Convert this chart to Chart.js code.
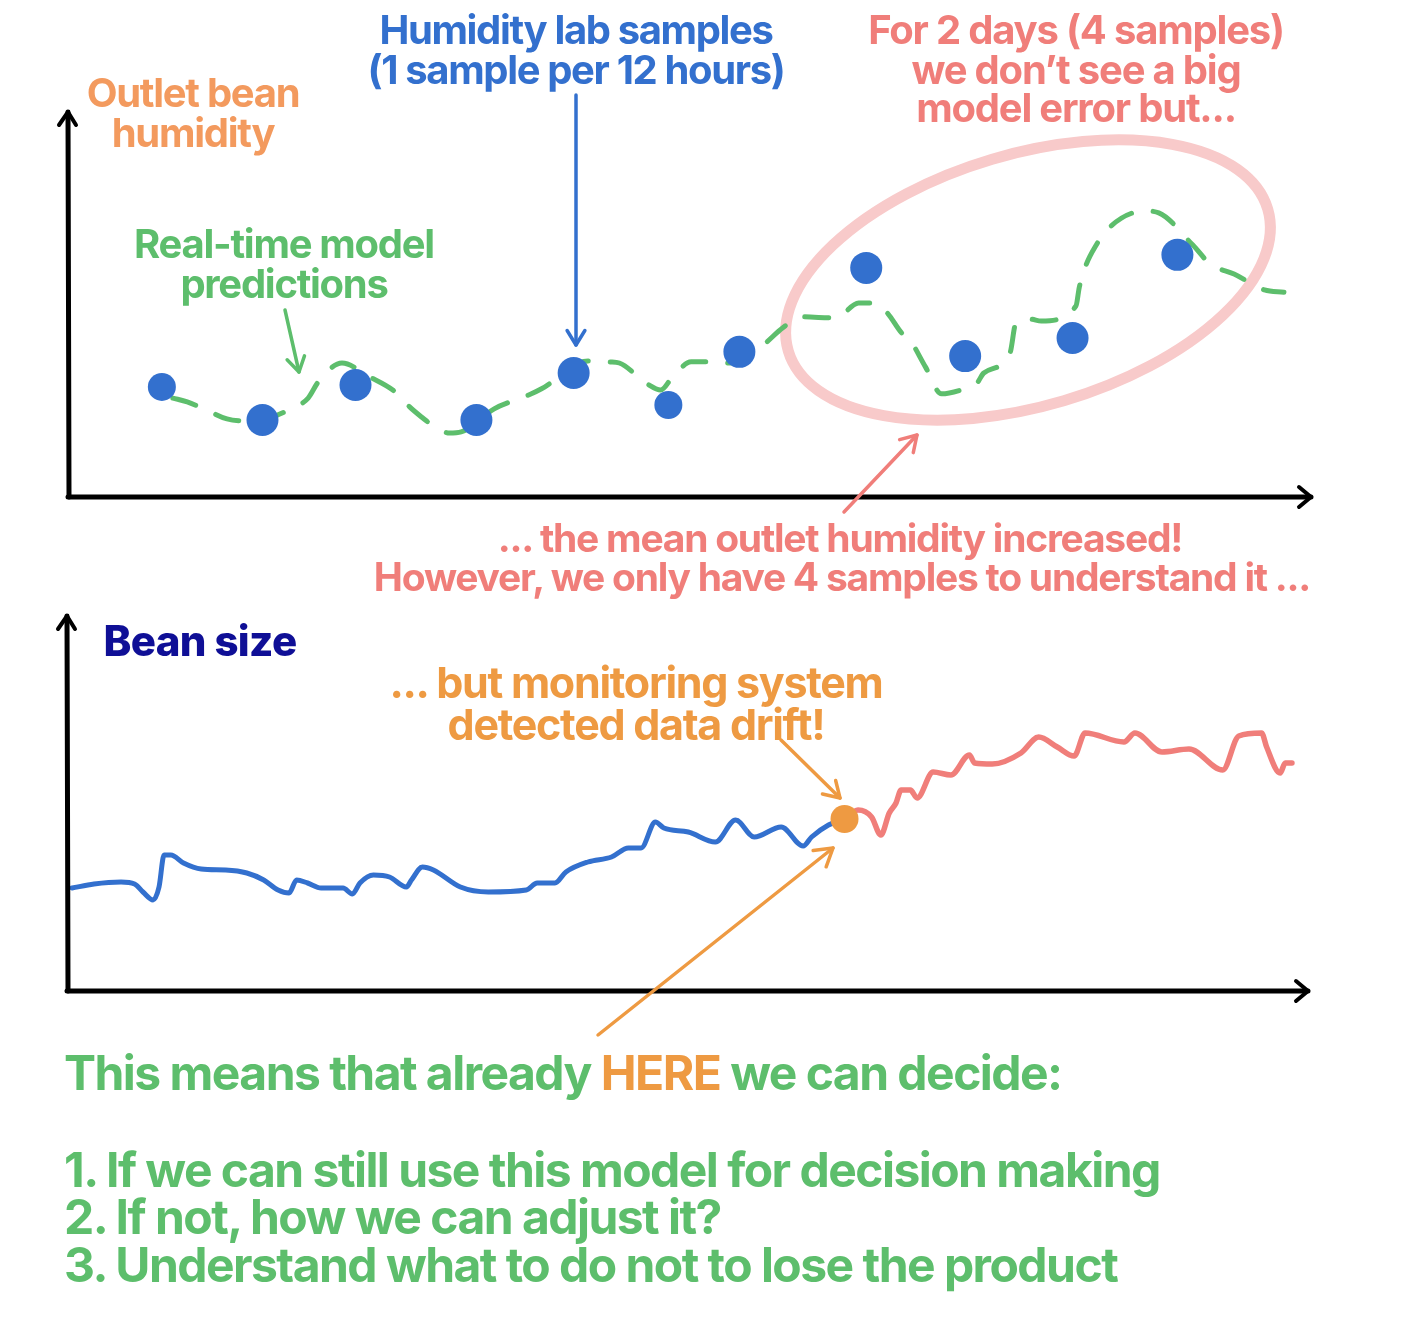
<!DOCTYPE html>
<html><head><meta charset="utf-8">
<script src="https://cdn.jsdelivr.net/npm/chart.js@4.4.1/dist/chart.umd.min.js"></script>
<style>
html,body{margin:0;padding:0;background:#fff;}
#wrap{position:relative;width:1422px;height:1330px;overflow:hidden;background:#fff;}
canvas{position:absolute;left:0;top:0;}
.t{position:absolute;white-space:nowrap;font-family:Inter,"Noto Sans",sans-serif;font-weight:700;line-height:1;pointer-events:none;}
.c{transform:translate(-50%,-50%);text-align:center;}
.l{transform:translate(0,-50%);}
</style></head>
<body>
<div id="wrap">
<canvas id="top" width="1422" height="1330"></canvas>
<canvas id="bot" width="1422" height="1330"></canvas>
</div>
<script>
// ---------- DATA ----------
// Top panel: outlet bean humidity (%), time in hours
const sampleHours = [11.1, 23.0, 34.0, 48.3, 59.8, 71.0, 79.4, 94.4, 106.1, 118.8, 131.2];
const sampleHumidity = [12.86, 12.0, 12.91, 12.0, 13.22, 12.39, 13.77, 15.95, 13.66, 14.13, 16.29];
const predHours = [12.4, 14.1, 16.1, 18.8, 21.8, 26.4, 28.4, 29.6, 32.4, 35.5, 38.7, 40.4, 41.8, 43.6, 45.1, 46.5, 50.4, 52.9, 54.8, 56.0, 61.5, 64.1, 65.2, 68.5, 70.1, 71.5, 73.7, 76.3, 78.3, 82.2, 84.5, 86.7, 90.8, 93.5, 95.4, 96.9, 98.6, 99.4, 101.4, 103.3, 105.6, 107.5, 108.3, 111.4, 112.1, 113.8, 115.1, 119.2, 119.6, 120.4, 121.8, 122.5, 127.3, 129.0, 133.0, 135.1, 137.9, 141.5, 143.8];
const predHumidity = [12.57, 12.47, 12.29, 12.03, 11.97, 12.29, 12.57, 12.99, 13.48, 13.14, 12.73, 12.34, 12.08, 11.79, 11.66, 11.69, 12.29, 12.52, 12.68, 12.81, 13.53, 13.51, 13.48, 12.94, 12.78, 13.12, 13.51, 13.51, 13.48, 13.95, 14.39, 14.68, 14.65, 15.04, 15.04, 14.78, 14.26, 14.13, 13.38, 12.68, 12.78, 12.96, 13.22, 13.74, 14.52, 14.62, 14.57, 14.96, 15.45, 16.03, 16.62, 16.86, 17.43, 17.38, 16.55, 16.05, 15.79, 15.38, 15.32];
// Bottom panel: bean size (mm)
const sizeHoursBefore = [0.6, 3.2, 6.4, 8.0, 9.0, 10.2, 10.9, 11.5, 12.3, 13.8, 15.9, 18.8, 21.3, 23.3, 25.0, 26.3, 27.2, 28.5, 30.1, 32.7, 33.8, 34.7, 36.3, 38.2, 40.2, 40.8, 42.1, 43.4, 46.6, 49.9, 54.4, 55.7, 57.8, 59.1, 61.7, 64.5, 66.5, 68.0, 69.7, 70.7, 73.6, 76.8, 79.2, 81.4, 84.6, 87.2, 88.2, 90.2, 92.1];
const sizeBefore = [6.03, 6.07, 6.09, 6.07, 5.99, 5.91, 6.04, 6.36, 6.36, 6.28, 6.22, 6.21, 6.18, 6.11, 6.01, 5.98, 6.11, 6.08, 6.03, 6.03, 5.97, 6.08, 6.16, 6.14, 6.04, 6.11, 6.24, 6.21, 6.04, 5.99, 6.01, 6.08, 6.08, 6.19, 6.29, 6.34, 6.43, 6.43, 6.69, 6.63, 6.59, 6.49, 6.71, 6.54, 6.64, 6.45, 6.54, 6.66, 6.72];
const sizeHoursAfter = [92.1, 93.7, 95.3, 96.4, 97.4, 98.2, 98.8, 99.9, 100.7, 102.6, 104.7, 106.9, 107.5, 109.6, 113.0, 115.1, 117.3, 119.3, 120.6, 125.2, 126.5, 129.7, 132.9, 136.9, 138.8, 141.5, 142.1, 143.7, 144.3, 145.1];
const sizeAfter = [6.72, 6.81, 6.74, 6.56, 6.78, 6.88, 7.01, 7.01, 6.93, 7.19, 7.16, 7.36, 7.28, 7.27, 7.38, 7.54, 7.44, 7.35, 7.58, 7.49, 7.58, 7.39, 7.42, 7.21, 7.55, 7.58, 7.44, 7.18, 7.28, 7.28];
const driftHour = [92.1];
const driftSize = [6.72];

const hourRange = [0, 147];
const humidityRange = [10, 20];
const sizeRange = [5, 8.76];

// ---------- STYLE ----------
const BLUE = '#3370CE', GREEN = '#5DBE6C', RED = '#F07E7A', PINK = '#F8CACA', ORANGE = '#EE9A42', ORANGE2 = '#F39A5E', NAVY = '#0F0F96';

const zip = (xs, ys) => xs.map((x, i) => ({x, y: ys[i]}));

function line(ctx, pts, color, w) {
  ctx.save(); ctx.strokeStyle = color; ctx.lineWidth = w; ctx.lineCap = 'round'; ctx.lineJoin = 'round';
  ctx.beginPath(); ctx.moveTo(pts[0][0], pts[0][1]);
  for (let i = 1; i < pts.length; i++) ctx.lineTo(pts[i][0], pts[i][1]);
  ctx.stroke(); ctx.restore();
}
function arrow(ctx, x1, y1, x2, y2, color, w, head) {
  line(ctx, [[x1, y1], [x2, y2]], color, w);
  const a = Math.atan2(y2 - y1, x2 - x1), s = 0.55;
  line(ctx, [[x2 - head * Math.cos(a - s), y2 - head * Math.sin(a - s)], [x2, y2], [x2 - head * Math.cos(a + s), y2 - head * Math.sin(a + s)]], color, w);
}
function axes(ctx, ca, topY, rightX) {
  line(ctx, [[ca.left, topY], [ca.left + 1, ca.bottom]], '#000', 5);
  line(ctx, [[ca.left - 9, topY + 13], [ca.left, topY], [ca.left + 8, topY + 13]], '#000', 4);
  line(ctx, [[ca.left, ca.bottom], [rightX, ca.bottom]], '#000', 5);
  line(ctx, [[rightX - 12, ca.bottom - 10], [rightX, ca.bottom], [rightX - 12, ca.bottom + 10]], '#000', 4);
}

const topDecor = {
  id: 'topDecor',
  beforeDatasetsDraw(chart) {
    const ctx = chart.ctx;
    ctx.save();
    ctx.strokeStyle = PINK; ctx.lineWidth = 11;
    ctx.beginPath();
    ctx.ellipse(1028, 280, 250, 126, -16.5 * Math.PI / 180, 0, Math.PI * 2);
    ctx.stroke(); ctx.restore();
  },
  afterDatasetsDraw(chart) {
    const ctx = chart.ctx, ca = chart.chartArea;
    axes(ctx, ca, 112, 1311);
    arrow(ctx, 576, 95, 576, 345, BLUE, 3.5, 17);
    arrow(ctx, 285, 310, 299, 372, GREEN, 3.5, 17);
    arrow(ctx, 844, 512, 917, 435, RED, 3.5, 18);
  }
};
const botDecor = {
  id: 'botDecor',
  afterDatasetsDraw(chart) {
    const ctx = chart.ctx, ca = chart.chartArea;
    axes(ctx, ca, 616, 1308);
    arrow(ctx, 781, 740, 840, 798, ORANGE, 3.5, 18);
    arrow(ctx, 598, 1035, 833, 848, ORANGE, 3.5, 20);
  }
};

const common = (padding, xr, yr) => ({
  responsive: false, animation: false,
  layout: {padding},
  plugins: {legend: {display: false}, tooltip: {enabled: false}},
  scales: {
    x: {type: 'linear', min: xr[0], max: xr[1], display: false},
    y: {type: 'linear', min: yr[0], max: yr[1], display: false}
  }
});

new Chart(document.getElementById('top'), {
  type: 'line',
  data: {datasets: [
    {data: zip(predHours, predHumidity), borderColor: GREEN, borderWidth: 5, borderDash: [24, 22], borderCapStyle: 'round',
     pointRadius: 0, cubicInterpolationMode: 'monotone', fill: false, order: 2},
    {type: 'scatter', data: zip(sampleHours, sampleHumidity), backgroundColor: BLUE, borderWidth: 0,
     pointRadius: [14, 16, 16, 16, 16, 14, 16, 16, 16, 16, 16], order: 1}
  ]},
  options: common({left: 68, right: 111, top: 112, bottom: 833}, hourRange, humidityRange),
  plugins: [topDecor]
});

new Chart(document.getElementById('bot'), {
  type: 'line',
  data: {datasets: [
    {data: zip(sizeHoursBefore, sizeBefore), borderColor: BLUE, borderWidth: 5, pointRadius: 0, cubicInterpolationMode: 'monotone', borderCapStyle: 'round', fill: false, order: 3},
    {data: zip(sizeHoursAfter, sizeAfter), borderColor: RED, borderWidth: 5.5, pointRadius: 0, cubicInterpolationMode: 'monotone', borderCapStyle: 'round', fill: false, order: 2},
    {type: 'scatter', data: zip(driftHour, driftSize), backgroundColor: ORANGE, borderWidth: 0, pointRadius: 14, order: 1}
  ]},
  options: common({left: 67, right: 114, top: 615, bottom: 339}, hourRange, sizeRange),
  plugins: [botDecor]
});

// ---------- TEXT ----------
// [text, x, y, size, color, align, letterSpacing(em), weight]
const labels = [
  ['Outlet bean', 193, 93, 40, ORANGE2, 'c', -0.032, 700],
  ['humidity', 193, 133, 40, ORANGE2, 'c', -0.032, 700],
  ['Humidity lab samples', 576, 30, 40, BLUE, 'c', -0.034, 700],
  ['(1 sample per 12 hours)', 576, 70, 40, BLUE, 'c', -0.034, 700],
  ['For 2 days (4 samples)', 1076, 30, 40, RED, 'c', -0.03, 700],
  ['we don\u2019t see a big', 1076, 70, 40, RED, 'c', -0.03, 700],
  ['model error but...', 1076, 108, 40, RED, 'c', -0.03, 700],
  ['Real-time model', 284, 244, 40, GREEN, 'c', -0.032, 700],
  ['predictions', 284, 284, 40, GREEN, 'c', -0.032, 700],
  ['... the mean outlet humidity increased!', 840, 537, 39, RED, 'c', -0.032, 700],
  ['However, we only have 4 samples to understand it ...', 842, 576, 39, RED, 'c', -0.032, 700],
  ['Bean size', 200, 641, 42, NAVY, 'c', -0.015, 800],
  ['... but monitoring system', 636, 682, 43, ORANGE, 'c', -0.03, 700],
  ['detected data drift!', 636, 724, 43, ORANGE, 'c', -0.03, 700],
  ['This means that already <span style="color:' + ORANGE + '">HERE</span> we can decide:', 64, 1073, 48, GREEN, 'l', -0.032, 700],
  ['1. If we can still use this model for decision making', 64, 1170, 48, GREEN, 'l', -0.032, 700],
  ['2. If not, how we can adjust it?', 64, 1217, 48, GREEN, 'l', -0.032, 700],
  ['3. Understand what to do not to lose the product', 64, 1265, 48, GREEN, 'l', -0.032, 700]
];
const wrap = document.getElementById('wrap');
labels.forEach(([txt, x, y, size, color, cls, ls, wt]) => {
  const d = document.createElement('div');
  d.className = 't ' + cls;
  d.style.left = x + 'px'; d.style.top = y + 'px';
  d.style.fontSize = size + 'px'; d.style.color = color;
  d.style.letterSpacing = ls + 'em'; d.style.fontWeight = wt;
  d.innerHTML = txt;
  wrap.appendChild(d);
});
</script>
</body></html>
